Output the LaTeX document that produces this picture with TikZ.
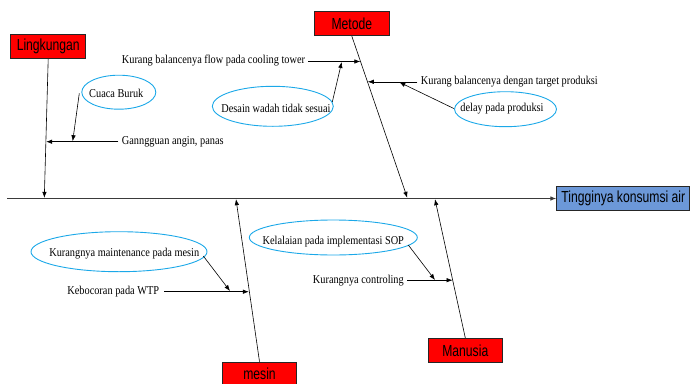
\documentclass[tikz,border=0pt]{standalone}
\usepackage{fontspec}
\setmainfont{Liberation Serif}[FakeStretch=0.86]
\newfontfamily\boxfont{Liberation Sans}[FakeStretch=0.76]
\usetikzlibrary{shapes.geometric,arrows.meta}
\definecolor{spinegray}{HTML}{3A3A3A}
\definecolor{ellblue}{HTML}{1BA8E8}
\definecolor{effblue}{HTML}{6C98D8}
\tikzset{
  causebox/.style={draw=black!85, line width=0.8pt, fill=red, font=\boxfont\fontsize{16}{18}\selectfont, minimum width=75pt, minimum height=24pt, inner sep=0pt},
  effbox/.style={causebox, fill=effblue, minimum width=133pt},
  lbl/.style={font=\fontsize{12}{14}\selectfont, inner sep=0pt},
  oval/.style={ellipse, draw=ellblue, line width=0.9pt, inner sep=0pt},
  arr/.style={-{Latex[length=6pt,width=4.5pt]}, line width=0.6pt, black},
  spine/.style={-{Latex[length=6pt,width=4.5pt]}, line width=1pt, spinegray}
}
\begin{document}
\begin{tikzpicture}[x=1pt,y=-1pt]
\useasboundingbox (0,0) rectangle (691,383);
% boxes
\node[causebox] (ling) at (48.2,46.7) {Lingkungan};
\node[causebox] (met) at (351.8,23.7) {Metode};
\node[causebox, minimum width=74pt] (mes) at (259.5,374) {mesin};
\node[causebox, minimum width=74pt] (man) at (465.3,350.3) {Manusia};
\node[effbox] (eff) at (623.3,198.7) {Tingginya konsumsi air};
% spine
\coordinate (s0) at (7,198.5);
\draw[spine] (s0) -- (eff.west |- s0);
% bone end points
\coordinate (lingE) at (44.3,197.8);
\coordinate (metE) at (407.3,197.8);
\coordinate (mesE) at (236,199.2);
\coordinate (manE) at (435,199.2);
\draw[arr] (ling.south) -- (lingE);
\draw[arr] (met.south) -- (metE);
\draw[arr] (mes.north) -- (mesE);
\draw[arr] (man.north) -- (manE);
% Lingkungan sub causes
\node[lbl, anchor=west] (gang) at (121.7,142) {Ganngguan angin, panas};
\coordinate (gangS) at (118.3,141.7);
\coordinate (gangE) at (46.2,141.7);
\draw[arr] (gangS) -- (gangE);
\node[oval, minimum width=74pt, minimum height=34pt] (cuacaO) at (118.8,92.2) {};
\node[lbl] (cuaca) at (116.3,93.7) {Cuaca Buruk};
\coordinate (cuacaS) at (79.3,93.3);
\coordinate (cuacaE) at (72.7,141.2);
\draw[arr] (cuacaS) -- (cuacaE);
% Metode sub causes
\node[lbl, anchor=west] (flow) at (121.7,61) {Kurang balancenya flow pada cooling tower};
\coordinate (flowS) at (308.3,61.5);
\coordinate (flowE) at (360.3,61.5);
\draw[arr] (flowS) -- (flowE);
\node[oval, minimum width=121pt, minimum height=40pt] (desainO) at (272.8,106.3) {};
\node[lbl] (desain) at (276,108) {Desain wadah tidak sesuai};
\coordinate (desainS) at (332.3,102);
\coordinate (desainE) at (341.7,62);
\draw[arr] (desainS) -- (desainE);
\node[lbl, anchor=west] (target) at (420.7,81.7) {Kurang balancenya dengan target produksi};
\coordinate (targetS) at (417.3,81.8);
\coordinate (targetE) at (367.8,81.8);
\draw[arr] (targetS) -- (targetE);
\node[oval, minimum width=102pt, minimum height=35pt] (delayO) at (505.5,109.2) {};
\node[lbl] (delay) at (502,109) {delay pada produksi};
\coordinate (delayS) at (453.8,108.5);
\coordinate (delayE) at (399.3,82.2);
\draw[arr] (delayS) -- (delayE);
% mesin sub causes
\node[oval, minimum width=176pt, minimum height=40pt] (maintO) at (119,251.7) {};
\node[lbl] (maint) at (124.3,253.3) {Kurangnya maintenance pada mesin};
\coordinate (maintS) at (203.3,256);
\coordinate (maintE) at (230,291);
\draw[arr] (maintS) -- (maintE);
\node[lbl, anchor=east] (bocor) at (159.3,291.7) {Kebocoran pada WTP};
\coordinate (bocorS) at (164.3,291.7);
\coordinate (bocorE) at (248.8,291.7);
\draw[arr] (bocorS) -- (bocorE);
% Manusia sub causes
\node[oval, minimum width=168pt, minimum height=35pt] (sopO) at (333.3,237.5) {};
\node[lbl] (sop) at (333.3,241.2) {Kelalaian pada implementasi SOP};
\coordinate (sopS) at (408.3,245);
\coordinate (sopE) at (435,280);
\draw[arr] (sopS) -- (sopE);
\node[lbl, anchor=east] (ctrl) at (404,280.7) {Kurangnya controling};
\coordinate (ctrlS) at (407.3,280.2);
\coordinate (ctrlE) at (452.5,280.2);
\draw[arr] (ctrlS) -- (ctrlE);
\end{tikzpicture}
\end{document}
